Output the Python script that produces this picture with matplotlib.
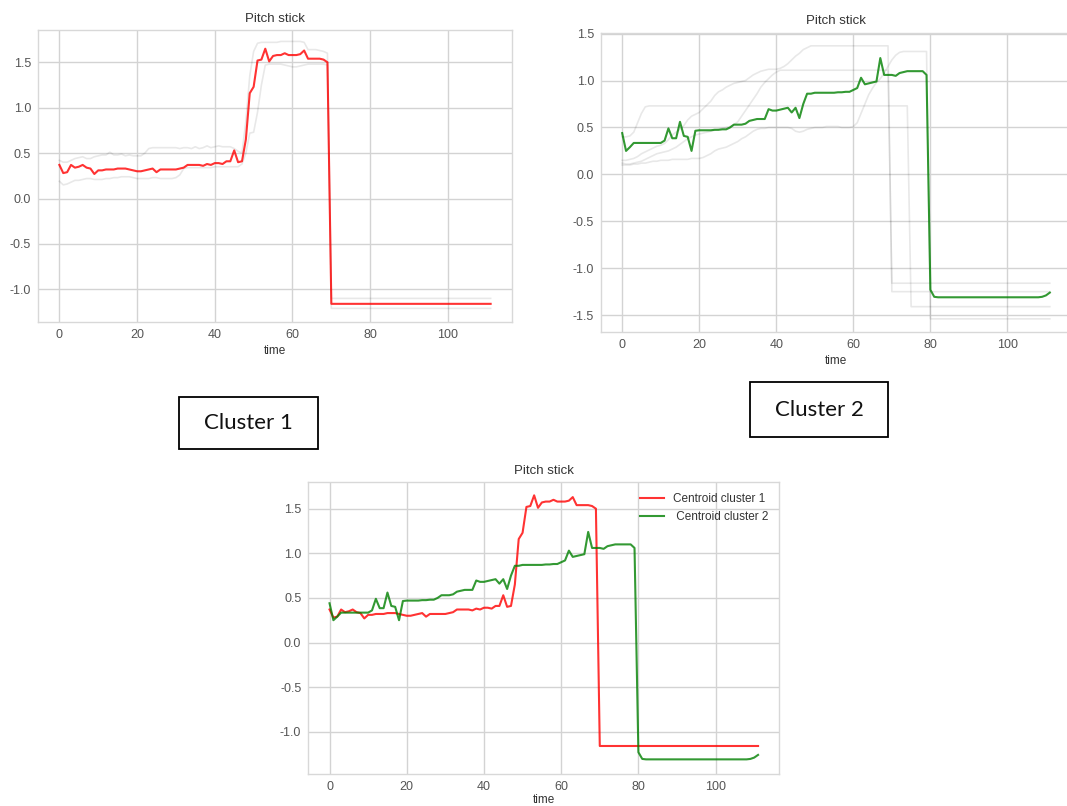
import matplotlib
matplotlib.use("Agg")
import matplotlib.pyplot as plt
from matplotlib.patches import Rectangle

# centroid of cluster 1 (red), one value per time step 0..111
centroid_1 = [
    0.37, 0.28, 0.29, 0.37, 0.34, 0.35, 0.37, 0.34, 0.33, 0.27, 0.31, 0.31, 0.32, 0.32,
    0.32, 0.33, 0.33, 0.33, 0.32, 0.31, 0.30, 0.30, 0.31, 0.32, 0.33, 0.29, 0.32, 0.32,
    0.32, 0.32, 0.32, 0.33, 0.34, 0.37, 0.37, 0.37, 0.37, 0.36, 0.38, 0.37, 0.39, 0.39,
    0.38, 0.41, 0.41, 0.53, 0.40, 0.41, 0.65, 1.16, 1.23, 1.52, 1.53, 1.65, 1.51, 1.57,
    1.58, 1.58, 1.60, 1.58, 1.58, 1.58, 1.59, 1.63, 1.54, 1.54, 1.54, 1.54, 1.53, 1.50,
    -1.16, -1.16, -1.16, -1.16, -1.16, -1.16, -1.16, -1.16, -1.16, -1.16, -1.16, -1.16, -1.16, -1.16,
    -1.16, -1.16, -1.16, -1.16, -1.16, -1.16, -1.16, -1.16, -1.16, -1.16, -1.16, -1.16, -1.16, -1.16,
    -1.16, -1.16, -1.16, -1.16, -1.16, -1.16, -1.16, -1.16, -1.16, -1.16, -1.16, -1.16, -1.16, -1.16,
]

# centroid of cluster 2 (green)
centroid_2 = [
    0.44, 0.25, 0.29, 0.335, 0.335, 0.335, 0.335, 0.335, 0.335, 0.335, 0.335, 0.36, 0.49, 0.385,
    0.385, 0.56, 0.41, 0.40, 0.25, 0.465, 0.47, 0.47, 0.47, 0.47, 0.475, 0.475, 0.48, 0.48,
    0.50, 0.53, 0.53, 0.53, 0.54, 0.57, 0.58, 0.59, 0.59, 0.59, 0.695, 0.68, 0.68, 0.69,
    0.70, 0.71, 0.66, 0.71, 0.60, 0.75, 0.86, 0.86, 0.87, 0.87, 0.87, 0.87, 0.87, 0.87,
    0.875, 0.875, 0.88, 0.88, 0.90, 0.92, 1.03, 0.96, 0.97, 0.98, 0.99, 1.24, 1.06, 1.06,
    1.06, 1.05, 1.08, 1.09, 1.10, 1.10, 1.10, 1.10, 1.10, 1.06, -1.23, -1.305, -1.31, -1.31,
    -1.31, -1.31, -1.31, -1.31, -1.31, -1.31, -1.31, -1.31, -1.31, -1.31, -1.31, -1.31, -1.31, -1.31,
    -1.31, -1.31, -1.31, -1.31, -1.31, -1.31, -1.31, -1.31, -1.31, -1.31, -1.31, -1.305, -1.29, -1.26,
]

# members of cluster 1
c1_upper = [
    0.42, 0.40, 0.40, 0.42, 0.44, 0.45, 0.46, 0.44, 0.44, 0.46, 0.47, 0.48, 0.48, 0.51,
    0.48, 0.48, 0.49, 0.47, 0.48, 0.47, 0.47, 0.47, 0.50, 0.55, 0.56, 0.56, 0.56, 0.56,
    0.56, 0.56, 0.56, 0.55, 0.56, 0.56, 0.55, 0.57, 0.55, 0.56, 0.58, 0.56, 0.57, 0.58,
    0.57, 0.57, 0.57, 0.55, 0.52, 0.50, 0.85, 1.35, 1.62, 1.71, 1.72, 1.72, 1.72, 1.72,
    1.72, 1.73, 1.73, 1.73, 1.73, 1.73, 1.73, 1.72, 1.64, 1.64, 1.64, 1.63, 1.62, 1.60,
    -1.10, -1.10, -1.10, -1.10, -1.10, -1.10, -1.10, -1.10, -1.10, -1.10, -1.10, -1.10, -1.10, -1.10,
    -1.10, -1.10, -1.10, -1.10, -1.10, -1.10, -1.10, -1.10, -1.10, -1.10, -1.10, -1.10, -1.10, -1.10,
    -1.10, -1.10, -1.10, -1.10, -1.10, -1.10, -1.10, -1.10, -1.10, -1.10, -1.10, -1.10, -1.10, -1.10,
]
c1_lower = [
    0.19, 0.15, 0.16, 0.18, 0.20, 0.20, 0.21, 0.22, 0.22, 0.21, 0.21, 0.21, 0.22, 0.22,
    0.23, 0.23, 0.24, 0.24, 0.24, 0.23, 0.22, 0.22, 0.22, 0.22, 0.23, 0.23, 0.22, 0.22,
    0.22, 0.22, 0.23, 0.26, 0.33, 0.34, 0.34, 0.34, 0.34, 0.34, 0.34, 0.34, 0.35, 0.35,
    0.35, 0.35, 0.35, 0.35, 0.35, 0.38, 0.50, 0.72, 0.73, 0.95, 1.25, 1.47, 1.48, 1.48,
    1.48, 1.48, 1.47, 1.46, 1.45, 1.45, 1.46, 1.47, 1.48, 1.48, 1.48, 1.48, 1.48, 1.47,
    -1.21, -1.21, -1.21, -1.21, -1.21, -1.21, -1.21, -1.21, -1.21, -1.21, -1.21, -1.21, -1.21, -1.21,
    -1.21, -1.21, -1.21, -1.21, -1.21, -1.21, -1.21, -1.21, -1.21, -1.21, -1.21, -1.21, -1.21, -1.21,
    -1.21, -1.21, -1.21, -1.21, -1.21, -1.21, -1.21, -1.21, -1.21, -1.21, -1.21, -1.21, -1.21, -1.21,
]

# members of cluster 2
c2_a = [
    0.40, 0.40, 0.41, 0.45, 0.55, 0.65, 0.72, 0.73, 0.73, 0.73, 0.73, 0.73, 0.73, 0.73,
    0.73, 0.73, 0.73, 0.73, 0.73, 0.73, 0.73, 0.73, 0.73, 0.73, 0.73, 0.73, 0.73, 0.73,
    0.73, 0.73, 0.73, 0.73, 0.73, 0.73, 0.73, 0.73, 0.73, 0.73, 0.73, 0.73, 0.73, 0.73,
    0.73, 0.73, 0.73, 0.73, 0.73, 0.73, 0.73, 0.73, 0.73, 0.73, 0.73, 0.73, 0.73, 0.73,
    0.73, 0.73, 0.73, 0.73, 0.73, 0.73, 0.73, 0.73, 0.73, 0.73, 0.73, 0.73, 0.73, 0.73,
    0.73, 0.73, 0.73, 0.73, 0.73, -1.41, -1.41, -1.41, -1.41, -1.41, -1.41, -1.41, -1.41, -1.41,
    -1.41, -1.41, -1.41, -1.41, -1.41, -1.41, -1.41, -1.41, -1.41, -1.41, -1.41, -1.41, -1.41, -1.41,
    -1.41, -1.41, -1.41, -1.41, -1.41, -1.41, -1.41, -1.41, -1.41, -1.41, -1.41, -1.41, -1.41, -1.41,
]
c2_b = [
    0.15, 0.15, 0.16, 0.17, 0.19, 0.22, 0.24, 0.26, 0.28, 0.30, 0.31, 0.33, 0.37, 0.42,
    0.45, 0.48, 0.52, 0.58, 0.62, 0.64, 0.66, 0.70, 0.74, 0.78, 0.84, 0.88, 0.90, 0.93,
    0.95, 0.97, 0.98, 0.99, 1.00, 1.03, 1.06, 1.08, 1.10, 1.11, 1.12, 1.12, 1.12, 1.13,
    1.15, 1.18, 1.22, 1.26, 1.29, 1.33, 1.35, 1.37, 1.37, 1.37, 1.37, 1.37, 1.37, 1.37,
    1.37, 1.37, 1.37, 1.37, 1.37, 1.37, 1.37, 1.37, 1.37, 1.37, 1.37, 1.37, 1.37, 1.37,
    -1.25, -1.25, -1.25, -1.25, -1.25, -1.25, -1.25, -1.25, -1.25, -1.25, -1.25, -1.25, -1.25, -1.25,
    -1.25, -1.25, -1.25, -1.25, -1.25, -1.25, -1.25, -1.25, -1.25, -1.25, -1.25, -1.25, -1.25, -1.25,
    -1.25, -1.25, -1.25, -1.25, -1.25, -1.25, -1.25, -1.25, -1.25, -1.25, -1.25, -1.25, -1.25, -1.25,
]
c2_c = [
    0.12, 0.11, 0.11, 0.12, 0.13, 0.14, 0.16, 0.18, 0.20, 0.22, 0.23, 0.24, 0.25, 0.27,
    0.29, 0.32, 0.35, 0.38, 0.40, 0.42, 0.43, 0.44, 0.45, 0.46, 0.47, 0.48, 0.49, 0.50,
    0.51, 0.53, 0.56, 0.62, 0.68, 0.74, 0.80, 0.86, 0.93, 0.98, 1.02, 1.06, 1.09, 1.11,
    1.11, 1.11, 1.11, 1.11, 1.11, 1.11, 1.11, 1.11, 1.11, 1.11, 1.11, 1.11, 1.11, 1.11,
    1.11, 1.11, 1.11, 1.11, 1.11, 1.11, 1.11, 1.11, 1.11, 1.11, 1.11, 1.11, 1.11, 1.11,
    -1.16, -1.16, -1.16, -1.16, -1.16, -1.16, -1.16, -1.16, -1.16, -1.16, -1.16, -1.16, -1.16, -1.16,
    -1.16, -1.16, -1.16, -1.16, -1.16, -1.16, -1.16, -1.16, -1.16, -1.16, -1.16, -1.16, -1.16, -1.16,
    -1.16, -1.16, -1.16, -1.16, -1.16, -1.16, -1.16, -1.16, -1.16, -1.16, -1.16, -1.16, -1.16, -1.16,
]
c2_d = [
    0.10, 0.10, 0.10, 0.11, 0.11, 0.12, 0.12, 0.13, 0.14, 0.14, 0.15, 0.15, 0.15, 0.16,
    0.16, 0.16, 0.16, 0.16, 0.17, 0.17, 0.17, 0.18, 0.20, 0.22, 0.25, 0.27, 0.28, 0.29,
    0.31, 0.33, 0.35, 0.38, 0.40, 0.43, 0.46, 0.48, 0.49, 0.49, 0.50, 0.50, 0.50, 0.50,
    0.50, 0.50, 0.49, 0.46, 0.45, 0.46, 0.48, 0.49, 0.50, 0.50, 0.50, 0.51, 0.51, 0.51,
    0.51, 0.50, 0.50, 0.50, 0.51, 0.55, 0.65, 0.75, 0.85, 0.92, 0.98, 1.02, 1.08, 1.15,
    1.22, 1.27, 1.30, 1.31, 1.31, 1.31, 1.31, 1.31, 1.31, 1.31, -1.54, -1.54, -1.54, -1.54,
    -1.54, -1.54, -1.54, -1.54, -1.54, -1.54, -1.54, -1.54, -1.54, -1.54, -1.54, -1.54, -1.54, -1.54,
    -1.54, -1.54, -1.54, -1.54, -1.54, -1.54, -1.54, -1.54, -1.54, -1.54, -1.54, -1.54, -1.54, -1.54,
]

time = list(range(len(centroid_1)))
cluster_1 = [c1_upper, c1_lower]
cluster_2 = [c2_a, c2_b, c2_c, c2_d]

W, H = 1067, 806
plt.rcParams['font.family'] = ['Liberation Sans', 'DejaVu Sans']
plt.rcParams['axes.unicode_minus'] = False


def px_axes(fig, left, top, right, bottom):
    # axes placed by pixel edges
    return fig.add_axes([left / W, 1 - bottom / H, (right - left) / W, (bottom - top) / H])


def style(ax, ylim, labelpad=3):
    ax.set_xlim(-5.5, 116.5)
    ax.set_ylim(*ylim)
    ax.set_xticks([0, 20, 40, 60, 80, 100])
    ax.grid(True, color='#d3d3d3', lw=1.0)
    ax.set_axisbelow(True)
    for s in ax.spines.values():
        s.set_color('#d8d8d8')
        s.set_linewidth(1.0)
    ax.tick_params(length=0, labelsize=9, colors='#555555', pad=5)
    ax.set_title('Pitch stick', fontsize=9.5, color='#333333', pad=6)
    ax.set_xlabel('time', fontsize=8.5, color='#333333', labelpad=labelpad)


fig = plt.figure(figsize=(W / 100, H / 100), dpi=100)

ax1 = px_axes(fig, 38, 30, 512, 322)
for s in cluster_1:
    ax1.plot(time, s, color='k', alpha=0.09, lw=1.2)
ax1.plot(time, centroid_1, color='red', alpha=0.8, lw=1.5)
style(ax1, (-1.36, 1.856))
ax1.set_yticks([-1.0, -0.5, 0.0, 0.5, 1.0, 1.5])

ax2 = px_axes(fig, 601, 32.7, 1071, 332)
for s in cluster_2:
    ax2.plot(time, s, color='k', alpha=0.09, lw=1.2)
ax2.plot(time, centroid_2, color='green', alpha=0.8, lw=1.5)
style(ax2, (-1.68, 1.51))
ax2.set_yticks([-1.5, -1.0, -0.5, 0.0, 0.5, 1.0, 1.5])

ax3 = px_axes(fig, 308.3, 482.3, 779.3, 774)
ax3.plot(time, centroid_1, color='red', alpha=0.8, lw=1.5, label='Centroid cluster 1')
ax3.plot(time, centroid_2, color='green', alpha=0.8, lw=1.5, label=' Centroid cluster 2')
style(ax3, (-1.474, 1.796), labelpad=1)
ax3.set_yticks([-1.0, -0.5, 0.0, 0.5, 1.0, 1.5])
ax3.legend(loc='upper right', frameon=False, fontsize=8.5, labelcolor='#333333')

# boxed cluster captions
for (x0, y0, x1, y1), txt in [((179, 397, 318, 449), 'Cluster 1'),
                              ((750, 382, 888, 437), 'Cluster 2')]:
    fig.patches.append(Rectangle((x0 / W, 1 - y1 / H), (x1 - x0) / W, (y1 - y0) / H,
                                 transform=fig.transFigure, fill=False,
                                 edgecolor='black', lw=1.3))
    fig.text((x0 + x1) / 2 / W, 1 - (y0 + y1) / 2 / H, txt, ha='center', va='center',
             fontsize=16, family=['Lato', 'DejaVu Sans'], color='#111111')

fig.savefig('out.png', dpi=100)
